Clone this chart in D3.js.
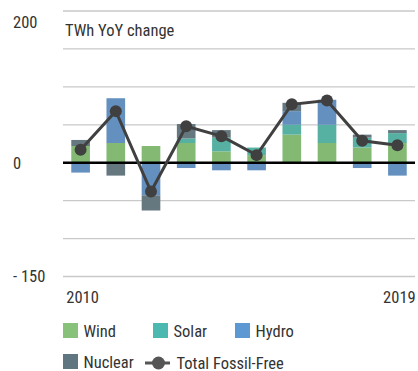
<!DOCTYPE html>
<html>
<head>
<meta charset="utf-8">
<script src="https://cdn.jsdelivr.net/npm/d3@7"></script>
<style>
  html, body { margin: 0; padding: 0; background: #fff; }
  svg { display: block; }
  text { font-family: "Liberation Sans Narrow", "Arial Narrow", "Roboto Condensed", sans-serif; font-size: 16.5px; fill: #333; }
</style>
</head>
<body>
<svg id="chart" width="418" height="371"></svg>
<script>
// Year-on-year change in fossil-free generation, TWh
const years   = [2010, 2011, 2012, 2013, 2014, 2015, 2016, 2017, 2018, 2019];
const wind    = [22, 26, 22, 26, 15, 10, 37, 26, 20, 26];
const solar   = [0, 0, 0, 6, 18, 10, 13, 24, 13, 13];
const hydro   = [-13, 59, -43, -7, -10, -10, 18, 33, -7, -17];
const nuclear = [8, -17, -20, 19, 10, 0, 11, 0, 4, 4];
const total   = [17, 68, -38, 48, 35, 10, 77, 82, 29, 23];

const yTicks = [200, 0, -150];
const xTickLabels = ["2010", "2019"];

const series = [
  { key: "Wind",    values: wind,    bar: "#83b972", swatch: "#88c17a" },
  { key: "Solar",   values: solar,   bar: "#56b1a2", swatch: "#4cb9b1" },
  { key: "Hydro",   values: hydro,   bar: "#6490bf", swatch: "#5c98d2" },
  { key: "Nuclear", values: nuclear, bar: "#66787f", swatch: "#5f7681" }
];

const svg = d3.select("#chart");
const plotLeft = 63, plotRight = 415, plotTop = 11, plotBottom = 276.5;

const x = d3.scaleBand().domain(years).range([plotLeft, plotRight]).paddingInner(0.47).paddingOuter(0.235);
const y = d3.scaleLinear().domain([-150, 200]).range([plotBottom, plotTop]);

// gridlines every 50 TWh
const grid = d3.range(-150, 201, 50).filter(v => v !== 0);
svg.append("g").selectAll("line").data(grid).join("line")
  .attr("x1", plotLeft).attr("x2", plotRight)
  .attr("y1", d => y(d)).attr("y2", d => y(d))
  .attr("stroke", "#c9c9c9").attr("stroke-width", 1.3);

// y labels
svg.append("g").selectAll("text").data(yTicks).join("text")
  .attr("x", 13)
  .attr("y", d => d === 200 ? 28.3 : y(d) + 5.8)
  .text(d => d < 0 ? "- " + Math.abs(d) : d);

// axis title
svg.append("text").attr("x", 65).attr("y", 36).text("TWh YoY change");

// stacked bars, positives up and negatives down
const rows = years.map((yr, i) => {
  const r = { year: yr };
  series.forEach(s => r[s.key] = s.values[i]);
  return r;
});
const stack = d3.stack().keys(series.map(s => s.key)).offset(d3.stackOffsetDiverging);
const layers = stack(rows);
svg.append("g").selectAll("g").data(layers).join("g")
  .attr("fill", (d, i) => series[i].bar)
  .selectAll("rect").data(d => d).join("rect")
  .attr("x", d => x(d.data.year))
  .attr("width", x.bandwidth())
  .attr("y", d => y(Math.max(d[0], d[1])))
  .attr("height", d => Math.abs(y(d[0]) - y(d[1])));

// zero line
svg.append("line")
  .attr("x1", plotLeft).attr("x2", plotRight)
  .attr("y1", y(0)).attr("y2", y(0))
  .attr("stroke", "#000").attr("stroke-width", 2.4);

// total fossil-free line
const cx = yr => x(yr) + x.bandwidth() / 2;
const line = d3.line().x((d, i) => cx(years[i])).y(d => y(d));
svg.append("path").datum(total)
  .attr("d", line)
  .attr("fill", "none").attr("stroke", "#404040").attr("stroke-width", 3);
svg.append("g").selectAll("circle").data(total).join("circle")
  .attr("cx", (d, i) => cx(years[i])).attr("cy", d => y(d))
  .attr("r", 6).attr("fill", "#404040");

// x labels
svg.append("g").selectAll("text").data(xTickLabels).join("text")
  .attr("x", d => cx(+d) + 2)
  .attr("y", 303)
  .attr("text-anchor", "middle")
  .text(d => d);

// legend
const legendPos = [
  { x: 63, y: 323 }, { x: 153, y: 323 }, { x: 235, y: 323 }, { x: 63, y: 354 }
];
const lg = svg.append("g");
series.forEach((s, i) => {
  const p = legendPos[i];
  lg.append("rect").attr("x", p.x).attr("y", p.y).attr("width", 15).attr("height", 15).attr("fill", s.swatch);
  lg.append("text").attr("x", p.x + 20.5).attr("y", p.y + 13.5).text(s.key);
});
lg.append("line").attr("x1", 145).attr("x2", 170).attr("y1", 363).attr("y2", 363)
  .attr("stroke", "#555").attr("stroke-width", 3);
lg.append("circle").attr("cx", 158.5).attr("cy", 363).attr("r", 6.5).attr("fill", "#555");
lg.append("text").attr("x", 176.5).attr("y", 368.5).text("Total Fossil-Free");
</script>
</body>
</html>
